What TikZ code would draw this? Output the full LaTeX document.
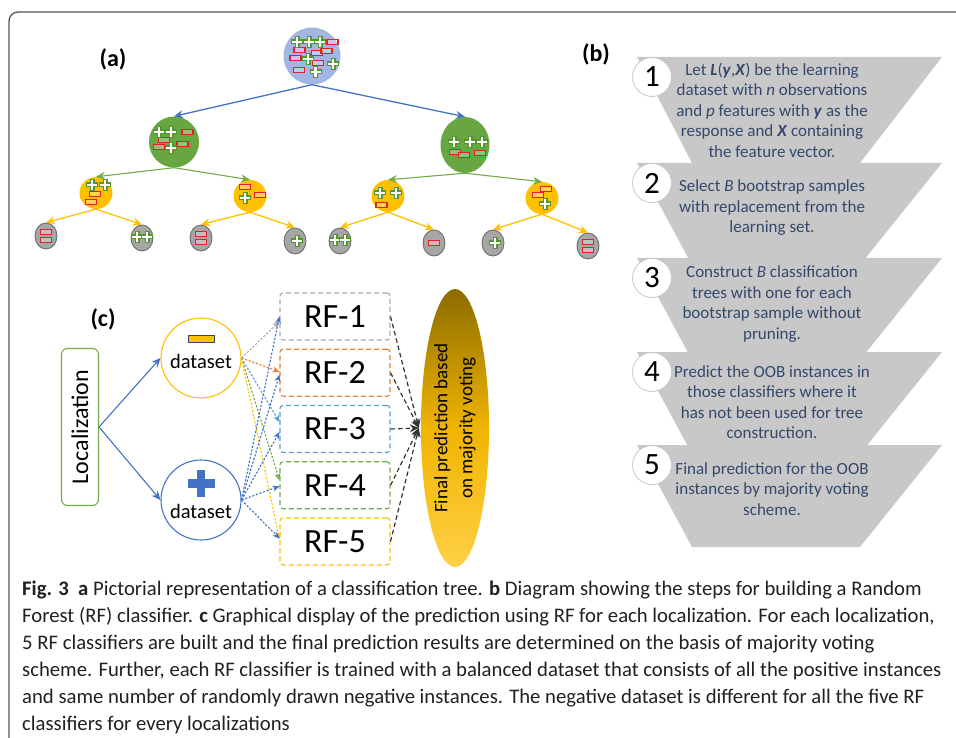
\documentclass[tikz,border=0pt]{standalone}
\usepackage{fontspec}
\setmainfont{Carlito}
\usetikzlibrary{shapes.geometric, arrows, arrows.meta, positioning, calc}

\definecolor{rootblue}{RGB}{163,181,226}
\definecolor{nodegreen}{RGB}{104,166,66}
\definecolor{nodeyellow}{RGB}{255,192,0}
\definecolor{leafgray}{RGB}{166,166,166}
\definecolor{leafedge}{RGB}{110,110,110}
\definecolor{signgreen}{RGB}{84,150,48}
\definecolor{signred}{RGB}{222,36,36}
\definecolor{arrblue}{RGB}{68,114,196}
\definecolor{arrgreen}{RGB}{112,173,71}
\definecolor{stepgray}{RGB}{200,200,200}
\definecolor{steptxt}{RGB}{52,72,108}
\definecolor{rfgray}{RGB}{170,170,170}
\definecolor{rforange}{RGB}{237,125,49}
\definecolor{rfblue}{RGB}{91,155,213}
\definecolor{rfgreen}{RGB}{112,173,71}
\definecolor{rfgold}{RGB}{255,192,0}
\definecolor{finTop}{RGB}{140,108,0}
\definecolor{finMid}{RGB}{240,180,0}
\definecolor{finBot}{RGB}{255,208,70}
\definecolor{framegray}{RGB}{85,85,85}
\definecolor{captxt}{RGB}{35,31,32}

\tikzstyle{rootnode} = [ellipse, 
minimum width=57pt, 
minimum height=57pt, 
fill=rootblue]
\tikzstyle{greennode} = [ellipse, 
minimum width=50pt, 
minimum height=51pt, 
fill=nodegreen]
\tikzstyle{yellownode} = [ellipse, 
minimum width=33pt, 
minimum height=32pt, 
fill=nodeyellow]
\tikzstyle{leaf} = [ellipse, 
minimum width=22pt, 
minimum height=26pt, 
fill=leafgray, 
draw=leafedge, line width=0.9pt]
\tikzstyle{treearrow} = [->, >={Stealth[length=9pt, width=8pt]}, line width=1.3pt]
\tikzstyle{numcircle} = [circle, 
minimum size=39pt, inner sep=0pt, 
fill=white, draw=black!22, line width=0.8pt,
font=\fontsize{31}{31}\selectfont]
\tikzstyle{steptext} = [align=center, 
text=steptxt, 
font=\fontsize{17}{20.5}\selectfont]
\tikzstyle{locbox} = [rectangle, rounded corners=6pt, 
minimum width=157pt, 
minimum height=37pt, 
draw=rfgreen, line width=1.1pt, 
rotate=90, 
font=\fontsize{24}{24}\selectfont]
\tikzstyle{dataset} = [circle, minimum size=80pt, line width=1.1pt]
\tikzstyle{rfbox} = [rectangle, rounded corners=3pt, 
minimum width=110pt, 
minimum height=47pt, 
dash pattern=on 5pt off 3pt, line width=1.1pt, 
font=\fontsize{34}{34}\selectfont]
\tikzstyle{dotarrow} = [->, >={Stealth[length=7pt, width=6pt]}, line width=1.1pt, dash pattern=on 2.2pt off 1.6pt]
\tikzstyle{votearrow} = [->, >={Stealth[length=9pt, width=8pt]}, line width=1.2pt, dash pattern=on 4.5pt off 3pt, black!80]
\tikzstyle{panellabel} = [font=\bfseries\fontsize{24}{24}\selectfont]
\tikzstyle{capline} = [anchor=base west, inner sep=0pt, text=captxt, font=\fontsize{20.7}{20.7}\selectfont]

\tikzset{
possign/.pic={
\draw[signgreen, line width=5pt] (-6,0) -- (6,0) (0,-6) -- (0,6);
\draw[white, line width=2.4pt] (-5,0) -- (5,0) (0,-5) -- (0,5);
},
negsign/.pic={
\draw[signred, line width=1.1pt, fill=white, fill opacity=0.3] (-5.5,-2.5) rectangle (5.5,2.5);
}
}

\begin{document}
\begin{tikzpicture}[x=1pt, y=-1pt, node distance=56.25pt]
\useasboundingbox (0,0) rectangle (956,738);
\draw[framegray, line width=1.3pt, rounded corners=9pt] (975,12) -- (9,12) -- (9,752);

% (a) classification tree
\node (laba) [panellabel] at (113,59) {(a)};
\node (root) [rootnode] at (312,56) {};
\node (nl) [greennode] at (174,142) {};
\node (nr) [greennode, minimum width=49pt, minimum height=56pt] at (465,145) {};
\node (nll) [yellownode] at (96,193) {};
\node (nlr) [yellownode] at (250,196) {};
\node (nrl) [yellownode] at (388,196) {};
\node (nrr) [yellownode] at (542,198) {};
\node (l1) [leaf] at (46,236) {};
\node (l2) [leaf] at (142,238) {};
\node (l3) [leaf] at (201,238) {};
\node (l4) [leaf] at (295,241) {};
\node (l5) [leaf] at (340,241) {};
\node (l6) [leaf] at (434,243) {};
\node (l7) [leaf] at (493,243) {};
\node (l8) [leaf] at (588,246) {};

\draw [treearrow, arrblue] (root.south) -- (nl.north);
\draw [treearrow, arrblue] (root.south) -- (nr.north);
\draw [treearrow, arrgreen, line width=1.1pt] (nl.south) -- (nll.north);
\draw [treearrow, arrgreen, line width=1.1pt] (nl.south) -- (nlr.north);
\draw [treearrow, arrgreen, line width=1.1pt] (nr.south) -- (nrl.north);
\draw [treearrow, arrgreen, line width=1.1pt] (nr.south) -- (nrr.north);
\draw [treearrow, nodeyellow] (nll.south) -- (l1.north);
\draw [treearrow, nodeyellow] (nll.south) -- (l2.north);
\draw [treearrow, nodeyellow] (nlr.south) -- (l3.north);
\draw [treearrow, nodeyellow] (nlr.south) -- (l4.north);
\draw [treearrow, nodeyellow] (nrl.south) -- (l5.north);
\draw [treearrow, nodeyellow] (nrl.south) -- (l6.north);
\draw [treearrow, nodeyellow] (nrr.south) -- (l7.north);
\draw [treearrow, nodeyellow] (nrr.south) -- (l8.north);

% signs inside the tree nodes
\begin{scope}[shift={(root.center)}]
\foreach \p in {(20.5,-14),(-12.5,-6),(5,-3),(14.5,-5),(-16.5,2),(6,7),(-13,14)} \pic at \p {negsign};
\foreach \p in {(-15,-14),(-3,-14),(8,-14),(-4,3),(21,8),(3.5,16)} \pic at \p {possign};
\end{scope}
\begin{scope}[shift={(nl.center)}]
\foreach \p in {(13.5,-10),(-10,-2),(-15,5),(8.5,2)} \pic at \p {negsign};
\foreach \p in {(-15,-10),(-3,-10),(-3,6)} \pic at \p {possign};
\end{scope}
\begin{scope}[shift={(nr.center)}]
\foreach \p in {(-11,-3),(5,-3),(17,-3)} \pic at \p {possign};
\foreach \p in {(-10,7),(-1,10),(15,8)} \pic at \p {negsign};
\end{scope}
\begin{scope}[shift={(nll.center)}]
\foreach \p in {(-4,-8),(9,-8)} \pic at \p {possign};
\foreach \p in {(-1,1),(-5,9)} \pic at \p {negsign};
\end{scope}
\begin{scope}[shift={(nlr.center)}]
\foreach \p in {(-5,-9),(10,-1)} \pic at \p {negsign};
\pic at (-5,2) {possign};
\end{scope}
\begin{scope}[shift={(nrl.center)}]
\foreach \p in {(-8,-3),(8,-3)} \pic at \p {possign};
\pic at (-6.5,9) {negsign};
\end{scope}
\begin{scope}[shift={(nrr.center)}]
\foreach \p in {(4,-9),(-4,-3)} \pic at \p {negsign};
\pic at (3,6) {possign};
\end{scope}
\foreach \n in {l1,l3,l8} {
\pic at ($(\n)+(0,-4)$) {negsign};
\pic at ($(\n)+(0,4)$) {negsign};
}
\foreach \n in {l2,l5} {
\pic at ($(\n)+(-5,-1)$) {possign};
\pic at ($(\n)+(5,-1)$) {possign};
}
\pic at ($(l4)+(2,0)$) {possign};
\pic at ($(l7)+(2,0)$) {possign};
\pic at (l6) {negsign};

% (b) steps of the random forest
\node (labb) [panellabel] at (596,54) {(b)};
\foreach \top/\ht in {57/106, 163/102, 258/102, 352/102, 445/102}
\fill[stepgray] (637,\top) -- (942,\top) -- (860,\top+\ht) -- (692,\top+\ht) -- cycle;
\foreach \n/\top in {1/57, 2/163, 3/258, 4/352, 5/445}
\node (num\n) [numcircle] at (652,\top+20) {\n};
\node (step1) [steptext] at (772,110) {Let \textbf{\textit{L}}(\textbf{\textit{y}},\textbf{\textit{X}}) be the learning\\dataset with \textit{n} observations\\and \textit{p} features with \textbf{\textit{y}} as the\\response and \textbf{\textit{X}} containing\\the feature vector.};
\node (step2) [steptext] at (772,208) {Select \textit{B} bootstrap samples\\with replacement from the\\learning set.};
\node (step3) [steptext] at (772,304) {Construct \textit{B} classification\\trees with one for each\\bootstrap sample without\\pruning.};
\node (step4) [steptext] at (772,402) {Predict the OOB instances in\\those classifiers where it\\has not been used for tree\\construction.};
\node (step5) [steptext] at (772,489) {Final prediction for the OOB\\instances by majority voting\\scheme.};

% (c) prediction with five RF classifiers
\node (labc) [panellabel] at (103,319) {(c)};
\node (loc) [locbox] at (80,427) {Localization};
\node (dsneg) [dataset, draw=rfgold] at (201,358) {};
\node (dsplus) [dataset, draw=arrblue] at (201,500) {};
\node (dsnegtxt) [font=\fontsize{20.5}{20.5}\selectfont] at (201,361) {dataset};
\node (dsplustxt) [font=\fontsize{20.5}{20.5}\selectfont] at (201,511) {dataset};
\draw[fill=rfgold, draw=steptxt, line width=0.8pt] ($(dsneg)+(-13,-23)$) rectangle ($(dsneg)+(13,-16)$);
\draw[arrblue, line width=8.5pt] ($(dsplus)+(-13.5,-16.5)$) -- ($(dsplus)+(13.5,-16.5)$)
($(dsplus)+(0,-30)$) -- ($(dsplus)+(0,-3)$);

\node (rf1) [rfbox, draw=rfgray] at (335,316.5) {RF-1};
\node (rf2) [rfbox, draw=rforange, below of=rf1] {RF-2};
\node (rf3) [rfbox, draw=rfblue, below of=rf2] {RF-3};
\node (rf4) [rfbox, draw=rfgreen, below of=rf3] {RF-4};
\node (rf5) [rfbox, draw=rfgold, below of=rf4] {RF-5};
\node (fin) [ellipse, rotate=90, minimum width=278pt, minimum height=68pt, 
top color=finTop, bottom color=finBot, middle color=finMid, 
align=center, font=\fontsize{19}{25}\selectfont] at (455,428) {Final prediction based\\on majority voting};

\draw [treearrow, arrblue, line width=1.1pt] (loc.south) -- (dsneg.west);
\draw [treearrow, arrblue, line width=1.1pt] (loc.south) -- (dsplus.west);

\draw [dotarrow, rfgray] (dsneg.east) -- ($(rf1.west)+(0,5)$);
\draw [dotarrow, rforange] (dsneg.east) -- ($(rf2.west)+(0,-1)$);
\draw [dotarrow, rfblue] (dsneg.east) -- ($(rf3.west)+(0,-7)$);
\draw [dotarrow, rfgreen] (dsneg.east) -- ($(rf4.west)+(0,-5)$);
\draw [dotarrow, rfgold] (dsneg.east) -- ($(rf5.west)+(0,-2)$);
\foreach \k/\d in {1/0, 2/2, 3/3, 4/1, 5/-3}
\draw [dotarrow, arrblue] (dsplus.east) -- ($(rf\k.west)+(0,\d)$);
\foreach \k in {1,...,5}
\draw [votearrow] (rf\k.east) -- ($(fin.north)+(-2,0)$);

% caption
\node (cap1) [capline] at (22,595) {\textbf{Fig. 3}\ \ \textbf{a} Pictorial representation of a classification tree. \textbf{b} Diagram showing the steps for building a Random};
\node (cap2) [capline] at (22,622) {Forest (RF) classifier. \textbf{c} Graphical display of the prediction using RF for each localization. For each localization,};
\node (cap3) [capline] at (22,649) {5 RF classifiers are built and the final prediction results are determined on the basis of majority voting};
\node (cap4) [capline] at (22,676) {scheme. Further, each RF classifier is trained with a balanced dataset that consists of all the positive instances};
\node (cap5) [capline] at (22,703) {and same number of randomly drawn negative instances. The negative dataset is different for all the five RF};
\node (cap6) [capline] at (22,730) {classifiers for every localizations};
\end{tikzpicture}
\end{document}
